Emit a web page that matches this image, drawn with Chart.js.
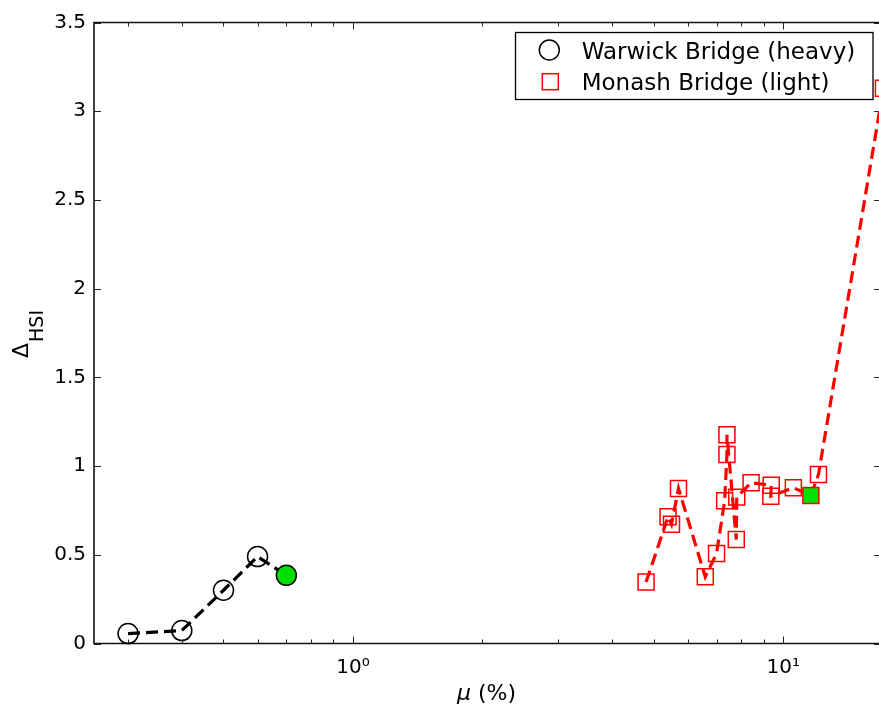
<!DOCTYPE html>
<html>
<head>
<meta charset="utf-8">
<script src="https://cdn.jsdelivr.net/npm/chart.js@4.4.1/dist/chart.umd.min.js"></script>
<style>
  html, body { margin: 0; padding: 0; background: #fff; }
  #wrap { width: 879px; height: 711px; }
</style>
</head>
<body>
<div id="wrap"><canvas id="hsiChart"></canvas></div>
<script>
// values
const warwickMu = [0.30, 0.40, 0.50, 0.60, 0.70];
const warwickDelta = [0.056, 0.073, 0.30, 0.49, 0.384];
const warwickHighlight = 4;

const monashMu = [4.80, 5.40, 5.50, 5.71, 6.59, 7.00, 7.31, 7.40, 7.40, 7.78, 7.80, 8.42, 9.38, 9.36, 10.56, 11.60, 12.08, 17.1];
const monashDelta = [0.346, 0.714, 0.672, 0.874, 0.376, 0.507, 0.804, 1.065, 1.176, 0.586, 0.825, 0.906, 0.892, 0.830, 0.878, 0.834, 0.953, 3.13];
const monashHighlight = 15;

const seriesLabels = ['Warwick Bridge (heavy)', 'Monash Bridge (light)'];

const xMin = 0.25, xMax = 16.7;
const xMinorTicks = [0.3, 0.4, 0.5, 0.6, 0.7, 0.8, 0.9, 2, 3, 4, 5, 6, 7, 8, 9];
const xMajorTicks = [1, 10];
const xTickLabels = ['10\u2070', '10\u00b9'];
const yTicks = [0, 0.5, 1, 1.5, 2, 2.5, 3, 3.5];

const FONT = '"DejaVu Sans", sans-serif';
const GREEN = '#00e000';

const toPoints = (xs, ys) => xs.map((x, i) => ({ x: x, y: ys[i] }));
const fillFor = (n, idx) => Array.from({ length: n }, (_, i) => i === idx ? GREEN : 'rgba(0,0,0,0)');

// box + inward ticks, matlab style (right side falls off the picture)
const axesBox = {
    id: 'axesBox',
    beforeDatasetsDraw(chart) {
        const { ctx, chartArea: a, scales } = chart;
        ctx.save();
        ctx.strokeStyle = '#262626';
        ctx.lineWidth = 1;
        yTicks.forEach(v => {
            const py = Math.round(scales.y.getPixelForValue(v)) + 0.5;
            ctx.beginPath();
            ctx.moveTo(a.left, py); ctx.lineTo(a.left + 7, py);
            ctx.moveTo(a.right + 2, py); ctx.lineTo(a.right - 5, py);
            ctx.stroke();
        });
        const xt = (v, len) => {
            const px = Math.round(scales.x.getPixelForValue(v)) + 0.5;
            ctx.beginPath();
            ctx.moveTo(px, a.bottom); ctx.lineTo(px, a.bottom - len);
            ctx.moveTo(px, a.top); ctx.lineTo(px, a.top + len);
            ctx.stroke();
        };
        xMinorTicks.forEach(v => xt(v, 4));
        xMajorTicks.forEach(v => xt(v, 7));
        ctx.strokeStyle = '#111';
        ctx.lineWidth = 1.6;
        ctx.beginPath();
        ctx.moveTo(a.right + 2, a.top);
        ctx.lineTo(a.left, a.top);
        ctx.lineTo(a.left, a.bottom);
        ctx.lineTo(a.right + 2, a.bottom);
        ctx.stroke();
        ctx.restore();
    }
};

const mathTitles = {
    id: 'mathTitles',
    afterDraw(chart) {
        const { ctx, chartArea: a } = chart;
        ctx.save();
        ctx.fillStyle = '#000';
        ctx.textBaseline = 'alphabetic';
        // x title: italic mu then (%)
        ctx.font = 'italic 22px ' + FONT;
        const w1 = ctx.measureText('\u03bc').width;
        ctx.font = '22px ' + FONT;
        const w2 = ctx.measureText(' (%)').width;
        const x0 = (a.left + a.right) / 2 - (w1 + w2) / 2;
        ctx.font = 'italic 22px ' + FONT;
        ctx.fillText('\u03bc', x0, 700);
        ctx.font = '22px ' + FONT;
        ctx.fillText(' (%)', x0 + w1, 700);
        // y title: Delta with HSI subscript, rotated
        ctx.translate(28, 358);
        ctx.rotate(-Math.PI / 2);
        ctx.font = '22px ' + FONT;
        ctx.fillText('\u0394', 0, 0);
        const wd = ctx.measureText('\u0394').width;
        ctx.font = '19px ' + FONT;
        ctx.fillText('HSI', wd + 1, 15);
        ctx.restore();
    }
};

const boxLegend = {
    id: 'boxLegend',
    afterDraw(chart) {
        const { ctx } = chart;
        ctx.save();
        ctx.fillStyle = '#fff';
        ctx.fillRect(515.5, 32.5, 357.5, 67);
        ctx.strokeStyle = '#000';
        ctx.lineWidth = 1.3;
        ctx.strokeRect(515.5, 32.5, 357.5, 67);
        ctx.lineWidth = 1.5;
        ctx.beginPath();
        ctx.arc(549.3, 50, 10, 0, Math.PI * 2);
        ctx.strokeStyle = '#000';
        ctx.stroke();
        ctx.strokeStyle = '#ff0000';
        ctx.strokeRect(542.3, 73.7, 16, 16);
        ctx.fillStyle = '#000';
        ctx.font = '23px ' + FONT;
        ctx.textBaseline = 'alphabetic';
        ctx.fillText(chart.data.datasets[0].label, 581.7, 58.5);
        ctx.fillText(chart.data.datasets[1].label, 581.7, 89.5);
        ctx.restore();
    }
};

const data = {
    datasets: [
        {
            label: seriesLabels[0],
            data: toPoints(warwickMu, warwickDelta),
            showLine: true,
            borderColor: '#000',
            borderWidth: 3.2,
            borderDash: [12, 6],
            pointStyle: 'circle',
            pointRadius: 10,
            pointBorderWidth: 1.5,
            pointBorderColor: '#000',
            pointBackgroundColor: fillFor(warwickMu.length, warwickHighlight),
            clip: false
        },
        {
            label: seriesLabels[1],
            data: toPoints(monashMu, monashDelta),
            showLine: true,
            borderColor: '#ff0000',
            borderWidth: 3.2,
            borderDash: [12, 6],
            pointStyle: 'rect',
            pointRadius: 11.3,
            pointBorderWidth: 1.5,
            pointBorderColor: '#ff0000',
            pointBackgroundColor: fillFor(monashMu.length, monashHighlight),
            clip: false
        }
    ]
};

const config = {
    type: 'scatter',
    data: data,
    options: {
        responsive: true,
        maintainAspectRatio: false,
        animation: false,
        layout: { autoPadding: false, padding: { top: 22.5, right: 0, left: 0, bottom: 0 } },
        plugins: {
            legend: { display: false },
            tooltip: { enabled: false }
        },
        scales: {
            x: {
                type: 'logarithmic',
                min: xMin,
                max: xMax,
                grid: { display: false, drawTicks: false },
                border: { display: false },
                afterBuildTicks: s => {
                    s.ticks = [xMin].concat(xMinorTicks, xMajorTicks, [xMax])
                        .sort((p, q) => p - q).map(v => ({ value: v }));
                },
                afterFit: s => {
                    s.height = 67.5;
                    s.paddingLeft = 0;
                    s.paddingRight = 0;
                },
                ticks: {
                    autoSkip: false,
                    maxRotation: 0,
                    padding: 12,
                    color: '#000',
                    font: { family: FONT, size: 20 },
                    callback: v => {
                        const i = xMajorTicks.indexOf(v);
                        return i >= 0 ? xTickLabels[i] : '';
                    }
                }
            },
            y: {
                min: 0,
                max: 3.5,
                grid: { display: false, drawTicks: false },
                border: { display: false },
                afterBuildTicks: s => { s.ticks = yTicks.map(v => ({ value: v })); },
                afterFit: s => { s.width = 94; },
                ticks: {
                    padding: 8,
                    color: '#000',
                    font: { family: FONT, size: 20 },
                    callback: v => String(v)
                }
            }
        }
    },
    plugins: [axesBox, mathTitles, boxLegend]
};

const myChart = new Chart(document.getElementById('hsiChart'), config);
</script>
</body>
</html>
